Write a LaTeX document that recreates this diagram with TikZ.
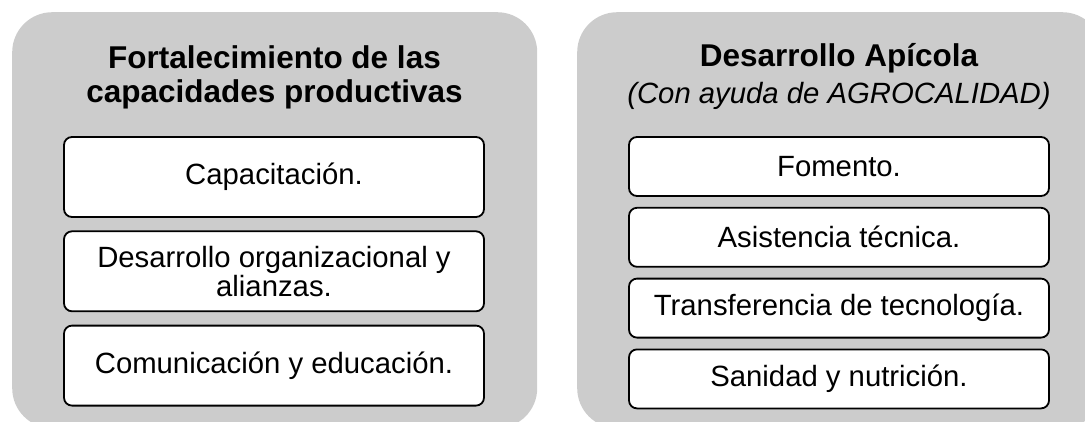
\documentclass[tikz,border=0pt]{standalone}
\usepackage{fontspec}
\setmainfont{Liberation Sans}
\usepackage{tikz}
\usetikzlibrary{positioning}
\definecolor{panelgray}{RGB}{204,204,204}
\tikzset{panel/.style={fill=panelgray,rounded corners=40pt,minimum width=525pt,minimum height=416pt,anchor=north west,inner sep=0pt}}
\tikzset{heading/.style={align=center,inner sep=0pt}}
\tikzset{item/.style={draw=black,line width=1.8pt,fill=white,rounded corners=8pt,minimum width=420pt,align=center,inner sep=0pt,font=\fontsize{29.3}{28.5}\selectfont}}

\begin{document}
\begin{tikzpicture}[x=1pt,y=-1pt]
  \clip (0,0) rectangle (1085,421);
  \node[panel] (left) at (12,12) {};
  \node[panel] (right) at (577,12) {};
  % left column
  \node[heading, font=\bfseries\fontsize{31.5}{34}\selectfont] (ltitle) at (274.5,77.5)
    {Fortalecimiento de las\\capacidades productivas};
  \node[item, minimum height=80pt] (capac) at (274,177) {Capacitaci\'on.};
  \node[item, minimum height=80pt, below=12.5pt of capac] (desorg) {Desarrollo organizacional y\\alianzas.};
  \node[item, minimum height=80pt, below=12.5pt of desorg] (comun) {Comunicaci\'on y educaci\'on.};
  % right column
  \node[heading, font=\fontsize{29.3}{37}\selectfont] (rtitle) at (839,76)
    {{\bfseries\fontsize{31.5}{37}\selectfont Desarrollo Ap\'icola}\\{\itshape (Con ayuda de AGROCALIDAD)}};
  \node[item, minimum height=59pt] (foment) at (839,166.5) {Fomento.};
  \node[item, minimum height=59pt, below=10pt of foment] (asist) {Asistencia t\'ecnica.};
  \node[item, minimum height=59pt, below=10pt of asist] (transf) {Transferencia de tecnolog\'ia.};
  \node[item, minimum height=59pt, below=10pt of transf] (sanid) {Sanidad y nutrici\'on.};
\end{tikzpicture}
\end{document}
